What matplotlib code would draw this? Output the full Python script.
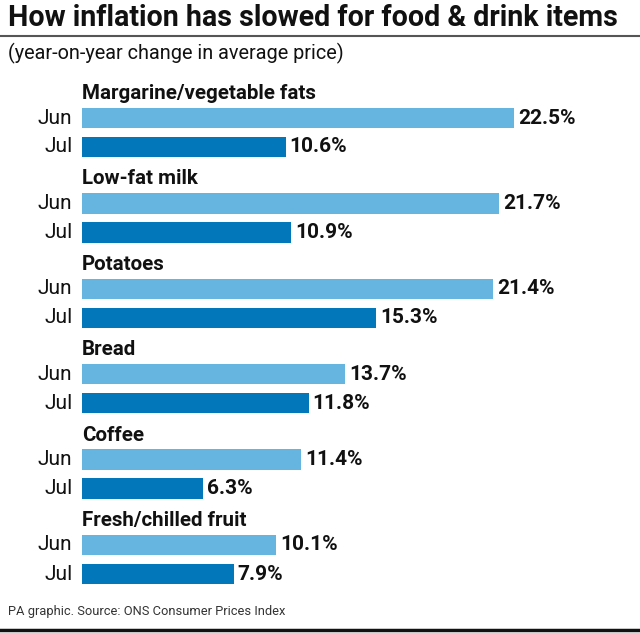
import matplotlib.pyplot as plt
from matplotlib.lines import Line2D

plt.rcParams["font.family"] = ["Roboto", "DejaVu Sans"]

TITLE = "How inflation has slowed for food & drink items"
SUBTITLE = "(year-on-year change in average price)"
SOURCE = "PA graphic. Source: ONS Consumer Prices Index"

categories = [
    "Margarine/vegetable fats",
    "Low-fat milk",
    "Potatoes",
    "Bread",
    "Coffee",
    "Fresh/chilled fruit",
]
jun_values = [22.5, 21.7, 21.4, 13.7, 11.4, 10.1]
jul_values = [10.6, 10.9, 15.3, 11.8, 6.3, 7.9]
month_labels = ["Jun", "Jul"]

JUN_COLOR = "#65b5e0"
JUL_COLOR = "#0277b9"

W, H = 640, 633
fig = plt.figure(figsize=(W / 100, H / 100), dpi=100)

# axes placed so bars start at x=82px; group spacing ~85px
px_per_unit = 19.2
ax_left, ax_top, ax_bottom = 82, 70, 590
ax = fig.add_axes([ax_left / W, 1 - ax_bottom / H, 1 - ax_left / W, (ax_bottom - ax_top) / H])
ax.set_xlim(0, (W - ax_left) / px_per_unit)
group_px = 85.4
ax.set_ylim((ax_bottom - 118) / group_px, (ax_top - 118) / group_px)
ax.axis("off")

jul_off = 29 / group_px
bar_h = 20.5 / group_px
head_off = -24.5 / group_px

ys = list(range(len(categories)))
ax.barh(ys, jun_values, height=bar_h, color=JUN_COLOR)
ax.barh([y + jul_off for y in ys], jul_values, height=bar_h, color=JUL_COLOR)

for y, name, jun, jul in zip(ys, categories, jun_values, jul_values):
    ax.text(0, y + head_off, name, fontsize=14.8, fontweight="bold",
            va="center", ha="left", color="#111111")
    for yy, val, lab in ((y, jun, month_labels[0]), (y + jul_off, jul, month_labels[1])):
        ax.annotate(lab, (0, yy), xytext=(-7, 0), textcoords="offset points",
                    ha="right", va="center", fontsize=15, color="#111111")
        ax.annotate(f"{val}%", (val, yy), xytext=(3, 0), textcoords="offset points",
                    ha="left", va="center", fontsize=15, fontweight="bold",
                    color="#111111")

fig.text(8 / W, 1 - 18 / H, TITLE, fontsize=20.6, fontweight="bold",
         ha="left", va="center", color="#111111")
fig.add_artist(Line2D([0, 1], [1 - 36 / H, 1 - 36 / H], color="#555555", lw=1.5))
fig.text(8 / W, 1 - 53 / H, SUBTITLE, fontsize=14.3, ha="left", va="center",
         color="#111111")
fig.text(8 / W, 1 - 612 / H, SOURCE, fontsize=9.3, ha="left", va="center",
         color="#333333")
fig.add_artist(Line2D([0, 1], [1 - 630 / H, 1 - 630 / H], color="#111111", lw=2.5))

fig.savefig("out.png", dpi=100)
